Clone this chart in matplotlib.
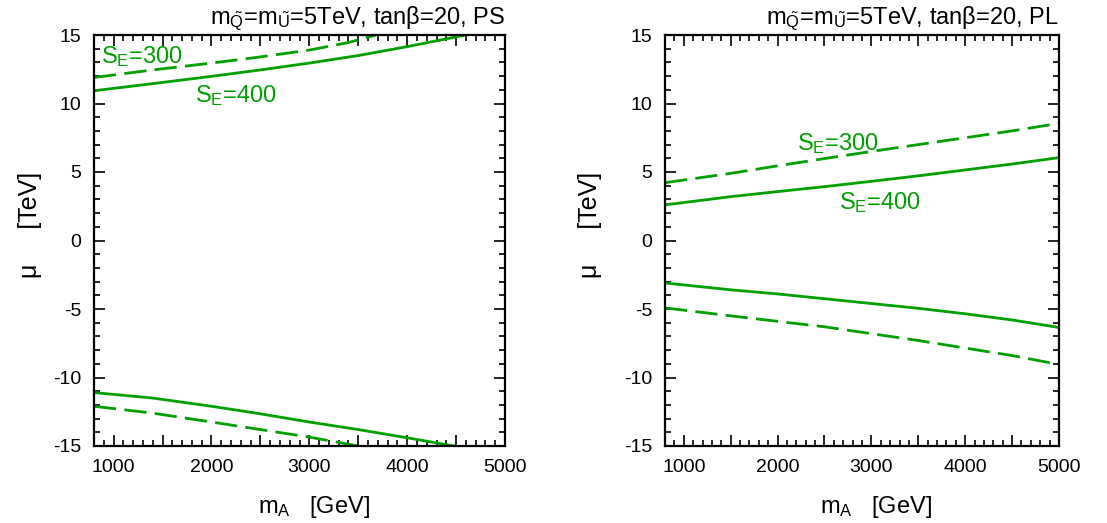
import matplotlib
matplotlib.use('Agg')
import matplotlib.pyplot as plt
from matplotlib.ticker import MultipleLocator, FuncFormatter

plt.rcParams['font.family'] = ['Liberation Sans', 'DejaVu Sans']
plt.rcParams['mathtext.fontset'] = 'custom'
plt.rcParams['mathtext.rm'] = 'Liberation Sans'
plt.rcParams['mathtext.it'] = 'Liberation Sans:italic'
plt.rcParams['axes.unicode_minus'] = False

GREEN = '#00a000'

# --- PS panel (left) ---
ps_x_se400_up = [800, 1400, 2000, 2500, 3000, 3500, 4000, 4600]
ps_y_se400_up = [10.93, 11.45, 11.98, 12.45, 12.95, 13.5, 14.15, 15.0]
ps_x_se300_up = [800, 1400, 2000, 2500, 3000, 3400, 3680]
ps_y_se300_up = [11.9, 12.45, 12.95, 13.4, 13.9, 14.45, 15.0]
ps_x_se400_dn = [800, 1400, 2000, 2500, 3000, 3500, 4000, 4480]
ps_y_se400_dn = [-11.1, -11.5, -12.1, -12.65, -13.25, -13.8, -14.4, -15.0]
ps_x_se300_dn = [800, 1400, 2000, 2500, 3000, 3500]
ps_y_se300_dn = [-12.1, -12.6, -13.25, -13.8, -14.35, -15.0]

# --- PL panel (right) ---
pl_x = [800, 1500, 2000, 2500, 3000, 3500, 4000, 4500, 5000]
pl_y_se300_up = [4.22, 4.9, 5.45, 5.98, 6.5, 7.0, 7.5, 8.0, 8.55]
pl_y_se400_up = [2.6, 3.2, 3.57, 3.93, 4.32, 4.72, 5.15, 5.58, 6.05]
pl_y_se400_dn = [-3.1, -3.6, -3.9, -4.25, -4.6, -4.95, -5.35, -5.8, -6.35]
pl_y_se300_dn = [-4.92, -5.5, -5.9, -6.3, -6.8, -7.3, -7.85, -8.4, -9.05]

titles = [r'm$_{\tilde{\rm Q}}$=m$_{\tilde{\rm U}}$=5TeV, tanβ=20, PS',
          r'm$_{\tilde{\rm Q}}$=m$_{\tilde{\rm U}}$=5TeV, tanβ=20, PL']

fig = plt.figure(figsize=(11.07, 5.23), dpi=100)
ax1 = fig.add_axes([94 / 1107, 1 - 446 / 523, 411 / 1107, 411 / 523])
ax2 = fig.add_axes([665 / 1107, 1 - 446 / 523, 394 / 1107, 411 / 523])

dash = (0, (8, 3))
ax1.plot(ps_x_se400_up, ps_y_se400_up, color=GREEN, lw=2)
ax1.plot(ps_x_se300_up, ps_y_se300_up, color=GREEN, lw=2, ls=dash)
ax1.plot(ps_x_se400_dn, ps_y_se400_dn, color=GREEN, lw=2)
ax1.plot(ps_x_se300_dn, ps_y_se300_dn, color=GREEN, lw=2, ls=dash)

ax2.plot(pl_x, pl_y_se300_up, color=GREEN, lw=2, ls=dash)
ax2.plot(pl_x, pl_y_se400_up, color=GREEN, lw=2)
ax2.plot(pl_x, pl_y_se400_dn, color=GREEN, lw=2)
ax2.plot(pl_x, pl_y_se300_dn, color=GREEN, lw=2, ls=dash)

# curve labels
ax1.text(870, 12.95, r'S$_{\rm E}$=300', color=GREEN, fontsize=17)
ax1.text(1830, 10.13, r'S$_{\rm E}$=400', color=GREEN, fontsize=17)
ax2.text(2210, 6.6, r'S$_{\rm E}$=300', color=GREEN, fontsize=17)
ax2.text(2650, 2.28, r'S$_{\rm E}$=400', color=GREEN, fontsize=17)


def xfmt(v, pos):
    return '%d' % v if int(v) % 1000 == 0 else ''


for ax, title, ylx in [(ax1, titles[0], -0.155), (ax2, titles[1], -0.19)]:
    ax.set_xlim(800, 5000)
    ax.set_ylim(-15, 15)
    ax.xaxis.set_major_locator(MultipleLocator(500))
    ax.xaxis.set_minor_locator(MultipleLocator(100))
    ax.xaxis.set_major_formatter(FuncFormatter(xfmt))
    ax.yaxis.set_major_locator(MultipleLocator(5))
    ax.yaxis.set_minor_locator(MultipleLocator(1))
    ax.tick_params(which='both', direction='in', top=True, right=True,
                   labelsize=14, width=1.2)
    ax.tick_params(which='major', length=8, pad=9)
    ax.tick_params(which='minor', length=4)
    for s in ax.spines.values():
        s.set_linewidth(1.6)
    ax.text(1.0, 1.005, title, transform=ax.transAxes, ha='right',
            va='bottom', fontsize=17)
    ax.set_xlabel(r'm$_{\rm A}$   [GeV]', fontsize=17)
    ax.xaxis.set_label_coords(0.535, -0.118)
    ax.set_ylabel(u'\u03bc     [TeV]', fontsize=18)
    ax.yaxis.set_label_coords(ylx, 0.537)
    ax.yaxis.label.set_va('center')

plt.savefig('out.png', dpi=100)
plt.close()
